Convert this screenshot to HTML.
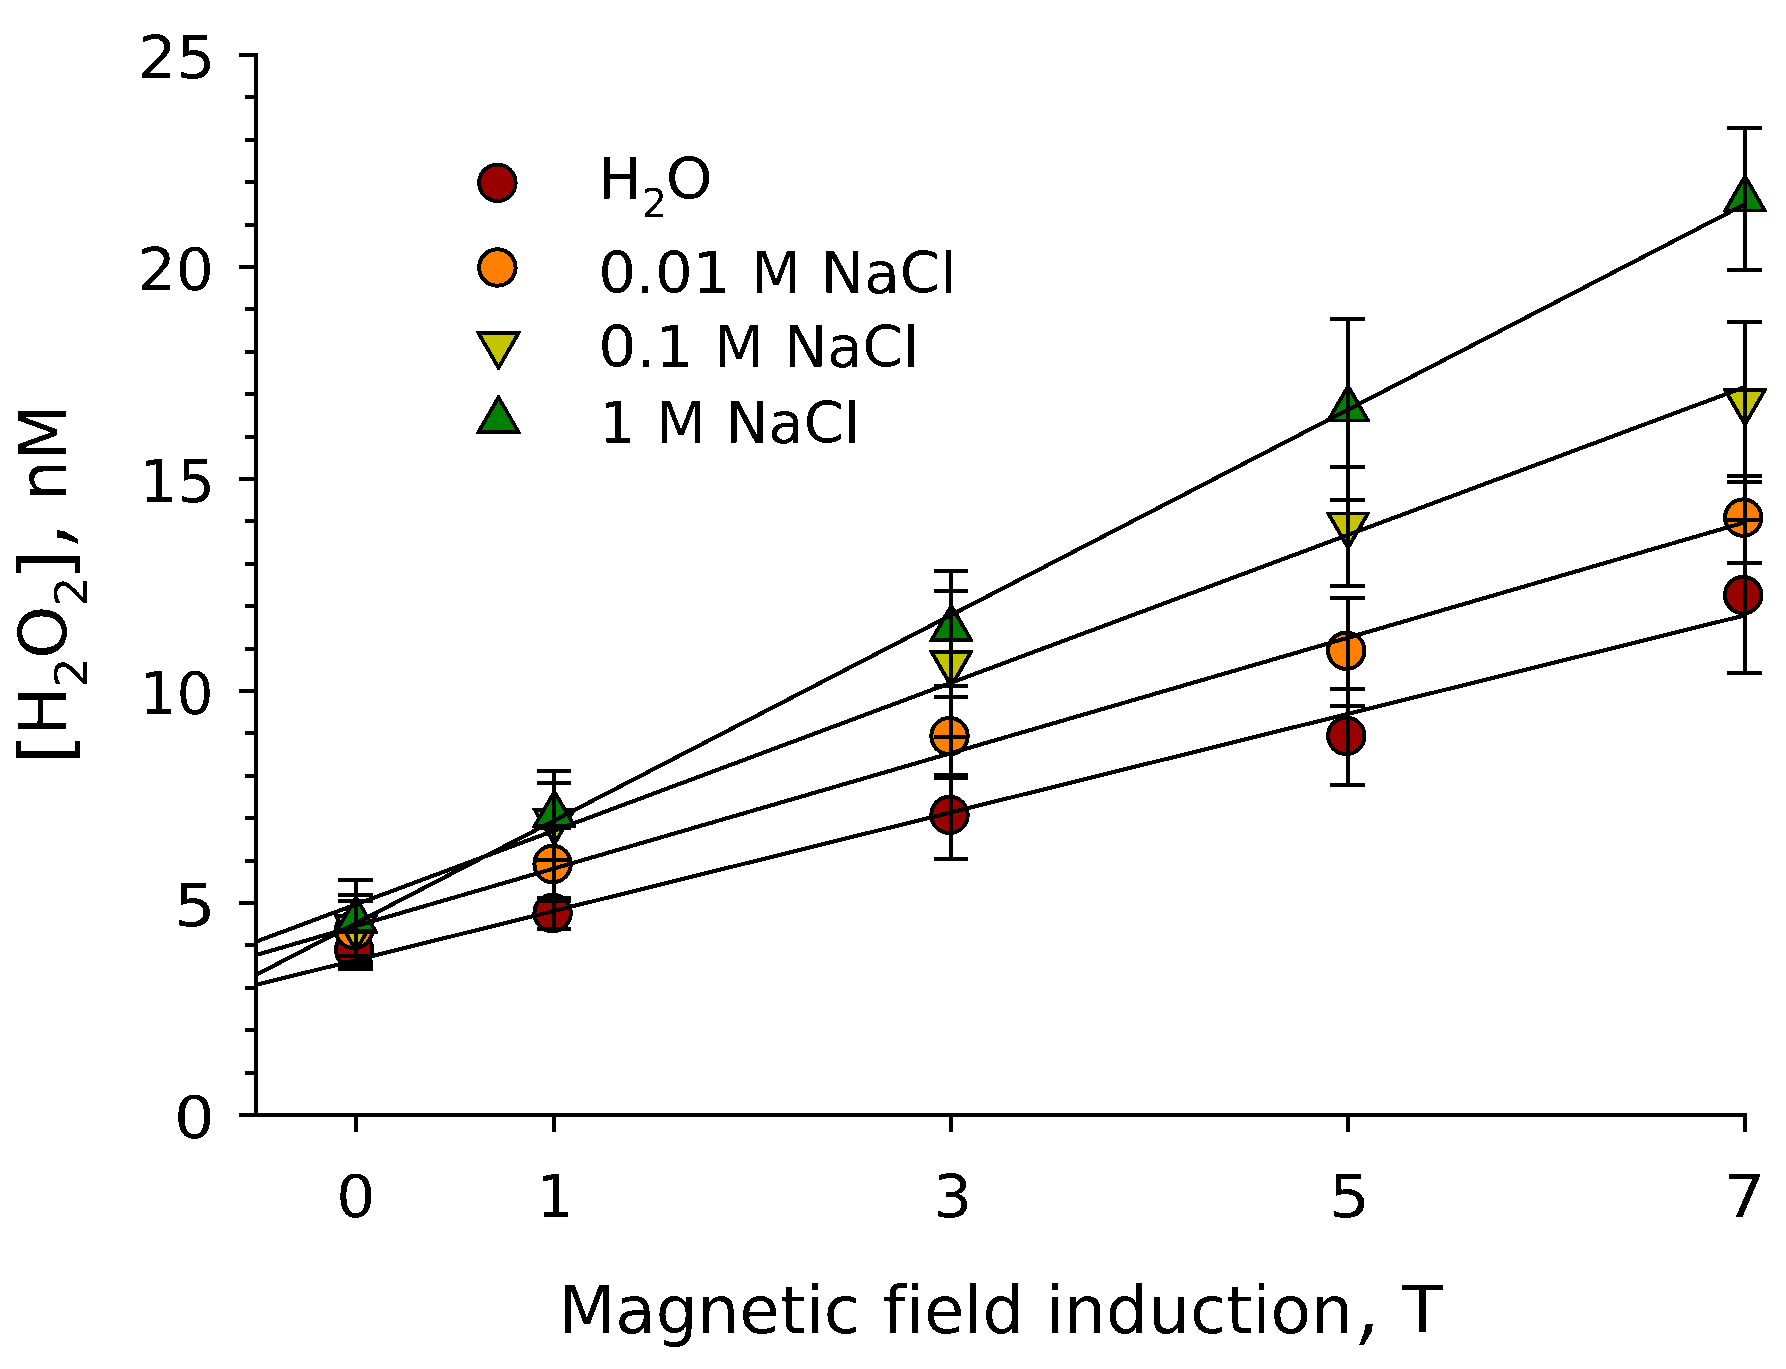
<!DOCTYPE html>
<html lang="en"><head><meta charset="utf-8"><title>H2O2 vs magnetic field induction</title>
<style>html,body{margin:0;padding:0;background:#fff;}body{width:1786px;height:1369px;overflow:hidden;}svg{display:block;position:absolute;left:0;top:0;}text{font-family:"DejaVu Sans", "Liberation Sans", sans-serif;fill:#000;font-kerning:none;font-variant-ligatures:none;}</style>
</head><body>
<svg width="1786" height="1369" viewBox="0 0 1786 1369" shape-rendering="crispEdges">
<rect x="0" y="0" width="1786" height="1369" fill="#ffffff"/>
<defs><filter id="px" x="0" y="0" width="1786" height="1369" filterUnits="userSpaceOnUse" color-interpolation-filters="sRGB"><feComponentTransfer><feFuncA type="discrete" tableValues="0 1"/></feComponentTransfer></filter></defs>
<g stroke="#000" stroke-width="4" fill="none" stroke-linecap="butt" shape-rendering="crispEdges">
<line x1="256" y1="53" x2="256" y2="1117"/>
<line x1="239" y1="1115" x2="1747" y2="1115"/>
<line x1="245" y1="1073" x2="256" y2="1073"/>
<line x1="245" y1="1030" x2="256" y2="1030"/>
<line x1="245" y1="988" x2="256" y2="988"/>
<line x1="245" y1="945" x2="256" y2="945"/>
<line x1="239" y1="903" x2="256" y2="903"/>
<line x1="245" y1="861" x2="256" y2="861"/>
<line x1="245" y1="818" x2="256" y2="818"/>
<line x1="245" y1="776" x2="256" y2="776"/>
<line x1="245" y1="733" x2="256" y2="733"/>
<line x1="239" y1="691" x2="256" y2="691"/>
<line x1="245" y1="649" x2="256" y2="649"/>
<line x1="245" y1="606" x2="256" y2="606"/>
<line x1="245" y1="564" x2="256" y2="564"/>
<line x1="245" y1="521" x2="256" y2="521"/>
<line x1="239" y1="479" x2="256" y2="479"/>
<line x1="245" y1="437" x2="256" y2="437"/>
<line x1="245" y1="394" x2="256" y2="394"/>
<line x1="245" y1="352" x2="256" y2="352"/>
<line x1="245" y1="309" x2="256" y2="309"/>
<line x1="239" y1="267" x2="256" y2="267"/>
<line x1="245" y1="225" x2="256" y2="225"/>
<line x1="245" y1="182" x2="256" y2="182"/>
<line x1="245" y1="140" x2="256" y2="140"/>
<line x1="245" y1="97" x2="256" y2="97"/>
<line x1="239" y1="55" x2="256" y2="55"/>
<line x1="356" y1="1115" x2="356" y2="1132"/>
<line x1="554" y1="1115" x2="554" y2="1132"/>
<line x1="951" y1="1115" x2="951" y2="1132"/>
<line x1="1348" y1="1115" x2="1348" y2="1132"/>
<line x1="1745" y1="1115" x2="1745" y2="1132"/>
</g>
<g stroke="#000" stroke-width="4" stroke-linejoin="miter">
<circle cx="354.2" cy="950.0" r="18.2" fill="#990000"/>
<circle cx="552.6" cy="913.0" r="18.2" fill="#990000"/>
<circle cx="949.5" cy="814.9" r="18.2" fill="#990000"/>
<circle cx="1346.3" cy="735.9" r="18.2" fill="#990000"/>
<circle cx="1743.2" cy="595.1" r="18.2" fill="#990000"/>
<circle cx="354.2" cy="930.0" r="18.2" fill="#FF8000"/>
<circle cx="552.6" cy="864.0" r="18.2" fill="#FF8000"/>
<circle cx="949.5" cy="736.1" r="18.2" fill="#FF8000"/>
<circle cx="1346.3" cy="650.7" r="18.2" fill="#FF8000"/>
<circle cx="1743.2" cy="517.6" r="18.2" fill="#FF8000"/>
<polygon points="355.0,952.5 357.0,952.5 378.0,916.1 378.0,914.3 334.0,914.3 334.0,916.1" fill="#000" stroke="none"/><polygon points="356.0,946.6 372.5,918.1 339.5,918.1" fill="#C3C300" stroke="none"/>
<polygon points="553.4,845.9 555.4,845.9 576.4,809.5 576.4,807.7 532.4,807.7 532.4,809.5" fill="#000" stroke="none"/><polygon points="554.4,840.0 570.9,811.5 537.9,811.5" fill="#C3C300" stroke="none"/>
<polygon points="950.3,688.2 952.3,688.2 973.3,651.8 973.3,650.0 929.3,650.0 929.3,651.8" fill="#000" stroke="none"/><polygon points="951.3,682.3 967.8,653.8 934.8,653.8" fill="#C3C300" stroke="none"/>
<polygon points="1347.1,549.8 1349.1,549.8 1370.1,513.4 1370.1,511.6 1326.1,511.6 1326.1,513.4" fill="#000" stroke="none"/><polygon points="1348.1,543.9 1364.6,515.4 1331.6,515.4" fill="#C3C300" stroke="none"/>
<polygon points="1744.0,426.5 1746.0,426.5 1767.0,390.1 1767.0,388.3 1723.0,388.3 1723.0,390.1" fill="#000" stroke="none"/><polygon points="1745.0,420.6 1761.5,392.1 1728.5,392.1" fill="#C3C300" stroke="none"/>
<polygon points="355.0,895.4 357.0,895.4 378.0,931.8 378.0,933.6 334.0,933.6 334.0,931.8" fill="#000" stroke="none"/><polygon points="356.0,901.3 372.5,929.8 339.5,929.8" fill="#008000" stroke="none"/>
<polygon points="553.4,789.6 555.4,789.6 576.4,826.0 576.4,827.8 532.4,827.8 532.4,826.0" fill="#000" stroke="none"/><polygon points="554.4,795.5 570.9,824.0 537.9,824.0" fill="#008000" stroke="none"/>
<polygon points="950.3,603.7 952.3,603.7 973.3,640.1 973.3,641.9 929.3,641.9 929.3,640.1" fill="#000" stroke="none"/><polygon points="951.3,609.6 967.8,638.1 934.8,638.1" fill="#008000" stroke="none"/>
<polygon points="1347.1,384.1 1349.1,384.1 1370.1,420.5 1370.1,422.3 1326.1,422.3 1326.1,420.5" fill="#000" stroke="none"/><polygon points="1348.1,390.0 1364.6,418.5 1331.6,418.5" fill="#008000" stroke="none"/>
<polygon points="1744.0,174.2 1746.0,174.2 1767.0,210.6 1767.0,212.4 1723.0,212.4 1723.0,210.6" fill="#000" stroke="none"/><polygon points="1745.0,180.1 1761.5,208.6 1728.5,208.6" fill="#008000" stroke="none"/>
</g>
<g stroke="#000" stroke-width="4" fill="none" stroke-linecap="butt">
<path d="M338.3 880.1H373.0M338.3 962.3H373.0M356.0 880.1V962.3"/>
<path d="M338.3 895.1H373.0M338.3 965.5H373.0M356.0 895.1V965.5"/>
<path d="M338.3 901.0H373.0M338.3 955.9H373.0M356.0 901.0V955.9"/>
<path d="M338.3 931.0H373.0M338.3 968.7H373.0M356.0 931.0V968.7"/>
<path d="M536.7 771.2H571.4M536.7 859.5H571.4M554.4 771.2V859.5"/>
<path d="M536.7 782.9H571.4M536.7 859.5H571.4M554.4 782.9V859.5"/>
<path d="M536.7 828.0H571.4M536.7 900.5H571.4M554.4 828.0V900.5"/>
<path d="M536.7 898.0H571.4M536.7 928.6H571.4M554.4 898.0V928.6"/>
<path d="M933.6 571.0H968.3M933.6 686.2H968.3M951.3 571.0V686.2"/>
<path d="M933.6 591.4H968.3M933.6 736.6H968.3M951.3 591.4V736.6"/>
<path d="M933.6 696.9H968.3M933.6 777.5H968.3M951.3 696.9V777.5"/>
<path d="M933.6 774.5H968.3M933.6 859.0H968.3M951.3 774.5V859.0"/>
<path d="M1330.4 319.0H1365.1M1330.4 500.0H1365.1M1348.1 319.0V500.0"/>
<path d="M1330.4 467.2H1365.1M1330.4 585.7H1365.1M1348.1 467.2V585.7"/>
<path d="M1330.4 597.5H1365.1M1330.4 706.3H1365.1M1348.1 597.5V706.3"/>
<path d="M1330.4 689.2H1365.1M1330.4 785.2H1365.1M1348.1 689.2V785.2"/>
<path d="M1727.3 128.0H1762.0M1727.3 270.0H1762.0M1745.0 128.0V270.0"/>
<path d="M1727.3 321.9H1762.0M1727.3 482.3H1762.0M1745.0 321.9V482.3"/>
<path d="M1727.3 476.2H1762.0M1727.3 562.6H1762.0M1745.0 476.2V562.6"/>
<path d="M1727.3 520.2H1762.0M1727.3 673.2H1762.0M1745.0 520.2V673.2"/>
</g>
<g stroke="#000" stroke-width="4.1" fill="none" stroke-linecap="butt">
<line x1="256" y1="984.9" x2="1745" y2="615.3"/>
<line x1="256" y1="955.1" x2="1745" y2="522.3"/>
<line x1="256" y1="941.7" x2="1745" y2="387.0"/>
<line x1="256" y1="974.9" x2="1745" y2="204.2"/>
</g>
<g filter="url(#px)">
<text transform="translate(137.63,78.00) scale(1.0530,1.0000)" font-size="58.00">25</text>
<text transform="translate(137.71,290.00) scale(1.0334,1.0000)" font-size="58.00">20</text>
<text transform="translate(139.37,502.00) scale(1.0247,1.0000)" font-size="58.00">15</text>
<text transform="translate(139.50,714.00) scale(1.0050,1.0000)" font-size="58.00">10</text>
<text transform="translate(174.20,926.00) scale(1.1185,1.0000)" font-size="58.00">5</text>
<text transform="translate(173.89,1138.00) scale(1.1017,1.0000)" font-size="58.00">0</text>
<text transform="translate(336.34,1217.20) scale(1.0607,1.0000)" font-size="58.00">0</text>
<text transform="translate(537.05,1217.20) scale(0.9970,1.0000)" font-size="58.00">1</text>
<text transform="translate(933.15,1217.20) scale(1.0525,1.0000)" font-size="58.00">3</text>
<text transform="translate(1328.56,1217.20) scale(1.1258,1.0000)" font-size="58.00">5</text>
<text transform="translate(1723.81,1217.20) scale(1.1329,1.0000)" font-size="58.00">7</text>
<text transform="translate(558.54,1332.70) scale(1.0039,1.0000)" font-size="65.60">Magnetic</text>
<text transform="translate(882.60,1332.70) scale(0.9994,1.0000)" font-size="65.60">field</text>
<text transform="translate(1045.56,1332.70) scale(1.0093,1.0000)" font-size="65.60">induction</text>
<text transform="translate(1355.3,1334.9) skewX(-9) scale(1.1,1.33)" font-size="65.6">,</text>
<text transform="translate(1401.90,1332.70) scale(1.0209,1.0000)" font-size="65.60">T</text>
<g transform="translate(66,757.7) rotate(-90)">
<text transform="translate(-6.97,3.80) scale(1.2295,1.0770)" font-size="66.00">[</text>
<text transform="translate(22.49,0.00) scale(0.9734,1.0000)" font-size="66.00">H</text>
<text transform="translate(70.57,21.20) scale(1.0418,1.0000)" font-size="45.00">2</text>
<text transform="translate(98.91,0.00) scale(1.0239,1.0000)" font-size="66.00">O</text>
<text transform="translate(151.33,21.20) scale(1.0514,1.0000)" font-size="45.00">2</text>
<text transform="translate(176.92,3.80) scale(1.2295,1.0770)" font-size="66.00">]</text>
<text transform="translate(210,2.2) skewX(-9) scale(1.1,1.33)" font-size="66">,</text>
<text transform="translate(256.97,0.00) scale(0.9730,1.0000)" font-size="66.00">nM</text>
</g>
<g stroke="#000" stroke-width="4" stroke-linejoin="miter">
<circle cx="497.4" cy="182.8" r="18.2" fill="#990000"/>
<circle cx="497.4" cy="267.5" r="18.2" fill="#FF8000"/>
<polygon points="497.5,369.8 499.5,369.8 520.9,332.7 520.9,331.0 476.1,331.0 476.1,332.7" fill="#000" stroke="none"/><polygon points="498.5,364.0 515.4,334.8 481.6,334.8" fill="#C3C300" stroke="none"/>
<polygon points="497.5,395.3 499.5,395.3 520.9,432.4 520.9,434.1 476.1,434.1 476.1,432.4" fill="#000" stroke="none"/><polygon points="498.5,401.1 515.4,430.3 481.6,430.3" fill="#008000" stroke="none"/>
</g>
<text transform="translate(598.33,198.80) scale(1.0064,1.0000)" font-size="57.40">H</text>
<text transform="translate(642.02,217.00) scale(1.0082,1.0000)" font-size="39.00">2</text>
<text transform="translate(665.66,198.80) scale(1.0366,1.0000)" font-size="57.40">O</text>
<text transform="translate(598.18,292.70) scale(1.0369,1.0000)" font-size="57.40">0.01</text>
<text transform="translate(751.25,292.70) scale(1.0030,1.0000)" font-size="57.40">M</text>
<text transform="translate(820.80,292.70) scale(1.0112,1.0000)" font-size="57.40">NaCl</text>
<text transform="translate(598.15,367.40) scale(1.0450,1.0000)" font-size="57.40">0.1</text>
<text transform="translate(714.01,367.40) scale(1.0108,1.0000)" font-size="57.40">M</text>
<text transform="translate(783.93,367.40) scale(1.0071,1.0000)" font-size="57.40">NaCl</text>
<text transform="translate(599.58,443.00) scale(0.9713,1.0000)" font-size="57.40">1</text>
<text transform="translate(656.01,443.00) scale(1.0108,1.0000)" font-size="57.40">M</text>
<text transform="translate(725.55,443.00) scale(1.0022,1.0000)" font-size="57.40">NaCl</text>
</g>
</svg>
</body></html>
